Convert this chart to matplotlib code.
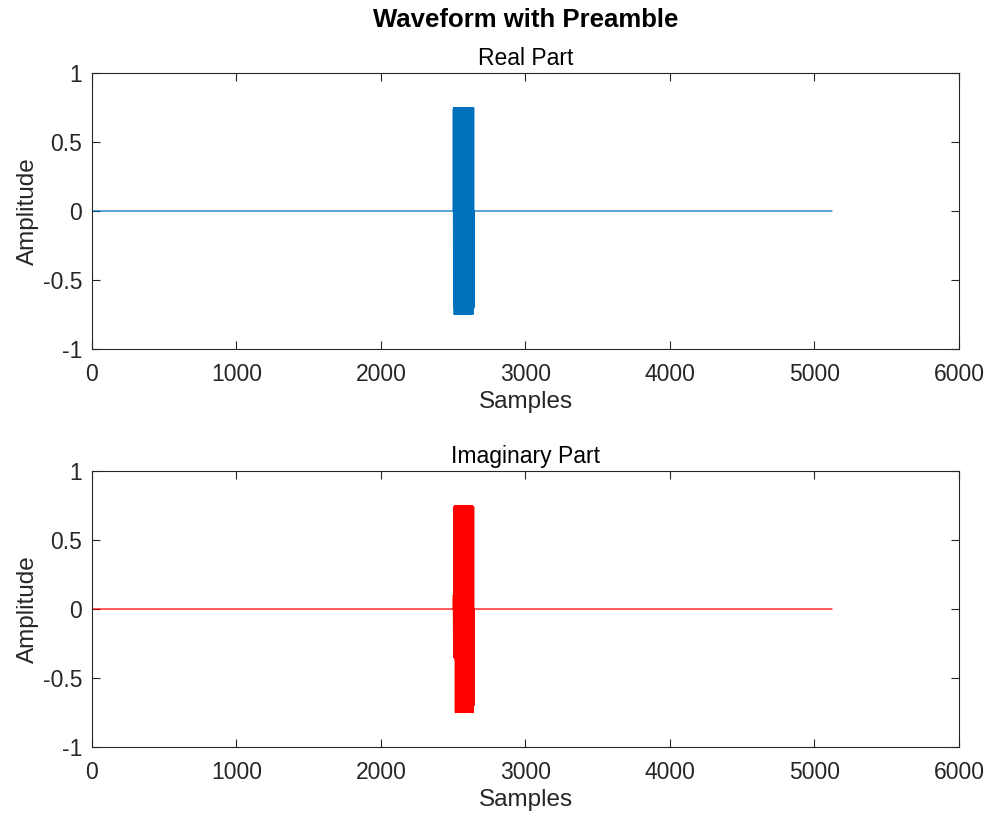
import numpy as np
import matplotlib
matplotlib.use('Agg')
import matplotlib.pyplot as plt

plt.rcParams['font.family'] = ['Liberation Sans', 'DejaVu Sans']

# signal layout (samples)
n_samples   = 5120
burst_start = 2500
burst_step  = 2

# preamble burst (every other sample)
real_burst = [
    0.74, -0.70, 0.75, -0.75, 0.72, -0.75, 0.75, -0.74, 0.68, -0.75,
    0.75, -0.75, 0.74, -0.72, 0.75, -0.75, 0.70, -0.75, 0.75, -0.74,
    0.75, -0.75, 0.73, -0.75, 0.75, -0.75, 0.68, -0.74, 0.75, -0.75,
    0.75, -0.73, 0.74, -0.75, 0.75, -0.75, 0.72, -0.75, 0.75, -0.74,
    0.75, -0.75, 0.69, -0.75, 0.75, -0.75, 0.74, -0.75, 0.75, -0.72,
    0.75, -0.75, 0.73, -0.75, 0.75, -0.74, 0.75, -0.75, 0.70, -0.75,
    0.75, -0.75, 0.74, -0.73, 0.75, -0.75, 0.75, -0.75, 0.72, -0.74,
    0.75, -0.70,
]
imag_burst = [
    0.10, -0.35, 0.74, -0.35, 0.75, -0.36, 0.75, -0.75, 0.72, -0.75,
    0.75, -0.75, 0.74, -0.75, 0.75, -0.62, 0.73, -0.62, 0.75, -0.75,
    0.75, -0.75, 0.74, -0.75, 0.75, -0.75, 0.72, -0.75, 0.75, -0.74,
    0.75, -0.75, 0.74, -0.75, 0.75, -0.75, 0.73, -0.75, 0.75, -0.75,
    0.75, -0.74, 0.74, -0.75, 0.75, -0.75, 0.72, -0.75, 0.75, -0.62,
    0.75, -0.62, 0.74, -0.75, 0.75, -0.75, 0.73, -0.75, 0.75, -0.75,
    0.75, -0.75, 0.74, -0.75, 0.75, -0.74, 0.75, -0.75, 0.72, -0.75,
    0.74, -0.70,
]

x_ticks = [0, 1000, 2000, 3000, 4000, 5000, 6000]
y_ticks = [-1, -0.5, 0, 0.5, 1]
y_labels = ['-1', '-0.5', '0', '0.5', '1']


def build_signal(burst):
    sig = np.zeros(n_samples)
    idx = burst_start + burst_step * np.arange(len(burst))
    sig[idx] = burst
    # keep burst samples and the zero stretches, drop the in-between zeros
    keep = np.ones(n_samples, dtype=bool)
    gap = np.zeros(n_samples, dtype=bool)
    gap[burst_start:idx[-1]] = True
    gap[idx] = False
    keep[gap] = False
    t = np.arange(1, n_samples + 1)
    return t[keep], sig[keep]


fig = plt.figure(figsize=(9.91, 8.15), dpi=100)
ax1 = fig.add_axes([0.0928, 0.5718, 0.8749, 0.3386])
ax2 = fig.add_axes([0.0928, 0.0834, 0.8749, 0.3387])

txt = '#262626'
for ax, burst, col, ttl in [(ax1, real_burst, '#0072BD', 'Real Part'),
                            (ax2, imag_burst, '#FF0000', 'Imaginary Part')]:
    t, s = build_signal(burst)
    ax.plot(t, s, color=col, lw=0.9)
    ax.set_xlim(0, 6000)
    ax.set_ylim(-1, 1)
    ax.set_xticks(x_ticks)
    ax.set_yticks(y_ticks)
    ax.set_yticklabels(y_labels)
    ax.tick_params(direction='in', top=True, right=True, length=6,
                   width=0.8, labelsize=16.5, colors=txt)
    ax.tick_params(axis='x', pad=10)
    ax.tick_params(axis='y', pad=7)
    for sp in ax.spines.values():
        sp.set_color(txt)
        sp.set_linewidth(0.8)
    ax.set_xlabel('Samples', fontsize=17.5, color=txt, labelpad=4)
    ax.set_ylabel('Amplitude', fontsize=17.5, color=txt, labelpad=3)
    ax.set_title(ttl, fontsize=16.5, color='black', pad=6)

fig.text(0.53, 0.975, 'Waveform with Preamble', ha='center', va='center',
         fontsize=18.5, fontweight='bold')

fig.savefig('out.png', dpi=100)
